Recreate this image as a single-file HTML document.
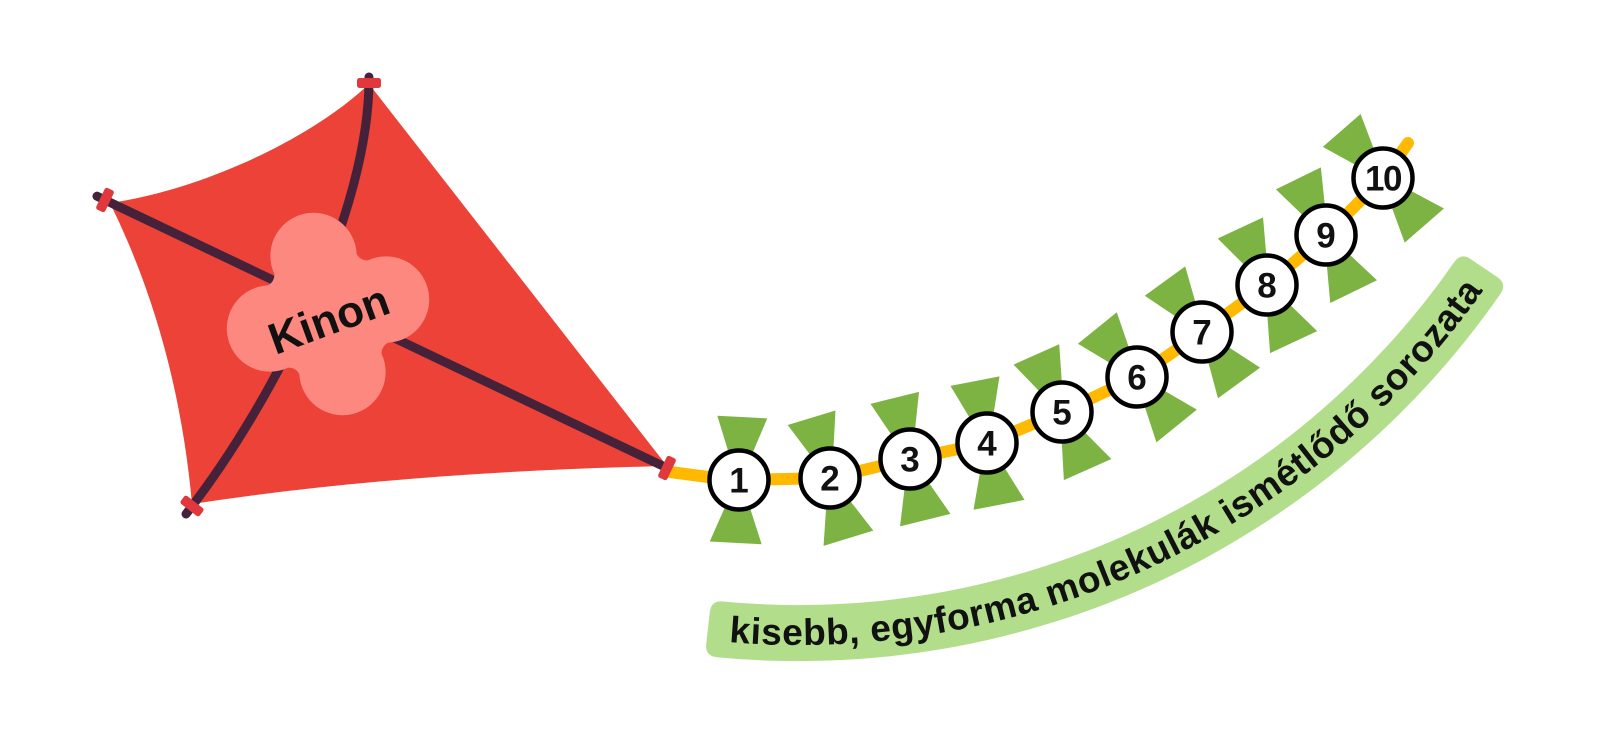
<!DOCTYPE html>
<html>
<head>
<meta charset="utf-8">
<style>
  html, body { margin: 0; padding: 0; background: #ffffff; }
  svg { display: block; }
  text { font-family: "Liberation Sans", "DejaVu Sans", sans-serif; font-weight: 700; fill: #111; }
</style>
</head>
<body>
<svg width="1600" height="750" viewBox="0 0 1600 750" xmlns="http://www.w3.org/2000/svg">
  <defs>
    <path id="band" d="M 708,628 A 826 826 0 0 0 1484,268" fill="none"/>
  </defs>
  <rect width="1600" height="750" fill="#ffffff"/>

  <!-- Kite fill -->
  <path d="M 369,84 L 667,466 Q 400,472 192,504 Q 177,339 110,203 C 200,190 310,140 369,84 Z" fill="#ec4237"/>

  <!-- Rods -->
  <path d="M 97,196.2 L 667,468" stroke="#45223a" stroke-width="9" stroke-linecap="round" fill="none"/>
  <path d="M 369,77 C 370,210 275,400 186,514" stroke="#45223a" stroke-width="9" stroke-linecap="round" fill="none"/>

  <!-- Kinon blob -->
  <g transform="translate(328,314) rotate(-14) scale(0.96)">
    <path d="M -44.16,-53.64 A 45 45 0 1 1 44.16,-53.64 A 12 12 0 0 0 53.64,-44.16 A 45 45 0 1 1 53.64,44.16 A 12 12 0 0 0 44.16,53.64 A 45 45 0 1 1 -44.16,53.64 A 12 12 0 0 0 -53.64,44.16 A 45 45 0 1 1 -53.64,-44.16 A 12 12 0 0 0 -44.16,-53.64 Z" fill="#fc8880"/>
  </g>
  <text x="329" y="320" font-size="44" text-anchor="middle" dominant-baseline="central" transform="rotate(-20 329 320)">Kinon</text>

  <!-- Green band (rounded ends) with curved text -->
  <path d="M 723.0,601.5 A 798 798 0 0 0 1454.0,262.4 Q 1460.7,252.4 1470.7,259.1 L 1497.2,277.0 Q 1507.2,283.7 1500.5,293.7 A 854 854 0 0 1 716.8,657.2 Q 704.9,655.9 706.2,644.0 L 709.8,612.1 Q 711.1,600.2 723.0,601.5 Z" fill="#b2de8b"/>
  <text font-size="37" dy="12">
    <textPath href="#band" startOffset="22" textLength="858" lengthAdjust="spacing">kisebb, egyforma molekulák ismétlődő sorozata</textPath>
  </text>

  <!-- Bows -->
  <g fill="#7cb342">
    <polygon points="-25,-63 25,-63 2,0 26,63 -26,63 -2,0" transform="translate(739,480) rotate(3)"/>
    <polygon points="-25,-63 25,-63 2,0 26,63 -26,63 -2,0" transform="translate(830,478) rotate(-17)"/>
    <polygon points="-25,-63 25,-63 2,0 26,63 -26,63 -2,0" transform="translate(910,459) rotate(-14)"/>
    <polygon points="-25,-63 25,-63 2,0 26,63 -26,63 -2,0" transform="translate(987,443) rotate(-11)"/>
    <polygon points="-25,-63 25,-63 2,0 26,63 -26,63 -2,0" transform="translate(1062,412) rotate(-24)"/>
    <polygon points="-25,-63 25,-63 2,0 26,63 -26,63 -2,0" transform="translate(1137,377) rotate(-39)"/>
    <polygon points="-25,-63 25,-63 2,0 26,63 -26,63 -2,0" transform="translate(1202,332) rotate(-36)"/>
    <polygon points="-25,-63 25,-63 2,0 26,63 -26,63 -2,0" transform="translate(1267,285) rotate(-25)"/>
    <polygon points="-25,-63 25,-63 2,0 26,63 -26,63 -2,0" transform="translate(1326,235) rotate(-26)"/>
    <polygon points="-25,-63 25,-63 2,0 26,63 -26,63 -2,0" transform="translate(1383,178) rotate(-41)"/>
  </g>

  <!-- Yellow string -->
  <polyline points="670,472 708,477 739,480 830,478 910,459 987,443 1062,412 1137,377 1202,332 1267,285 1326,235 1383,178 1408,143" fill="none" stroke="#ffb900" stroke-width="12" stroke-linecap="round" stroke-linejoin="round"/>

  <!-- Caps -->
  <g fill="#e0383d">
    <rect x="-12" y="-5" width="24" height="10" rx="2.5" transform="translate(369,83)"/>
    <rect x="-5" y="-12" width="10" height="24" rx="2.5" transform="translate(105,200) rotate(25.5)"/>
    <rect x="-5" y="-12" width="10" height="24" rx="2.5" transform="translate(667,468) rotate(25.5)"/>
    <rect x="-12" y="-5" width="24" height="10" rx="2.5" transform="translate(192,506) rotate(37.7)"/>
  </g>

  <!-- Circles -->
  <g fill="#ffffff" stroke="#000000" stroke-width="4.5">
    <circle cx="739" cy="480" r="29.5"/>
    <circle cx="830" cy="478" r="29.5"/>
    <circle cx="910" cy="459" r="29.5"/>
    <circle cx="987" cy="443" r="29.5"/>
    <circle cx="1062" cy="412" r="29.5"/>
    <circle cx="1137" cy="377" r="29.5"/>
    <circle cx="1202" cy="332" r="29.5"/>
    <circle cx="1267" cy="285" r="29.5"/>
    <circle cx="1326" cy="235" r="29.5"/>
    <circle cx="1383" cy="178" r="29.5"/>
  </g>
  <g font-size="35" text-anchor="middle">
    <text x="739" y="481" dominant-baseline="central">1</text>
    <text x="830" y="479" dominant-baseline="central">2</text>
    <text x="910" y="460" dominant-baseline="central">3</text>
    <text x="987" y="444" dominant-baseline="central">4</text>
    <text x="1062" y="413" dominant-baseline="central">5</text>
    <text x="1137" y="378" dominant-baseline="central">6</text>
    <text x="1202" y="333" dominant-baseline="central">7</text>
    <text x="1267" y="286" dominant-baseline="central">8</text>
    <text x="1326" y="236" dominant-baseline="central">9</text>
    <text x="1383" y="179" dominant-baseline="central" letter-spacing="-1.5">10</text>
  </g>
</svg>
</body>
</html>
